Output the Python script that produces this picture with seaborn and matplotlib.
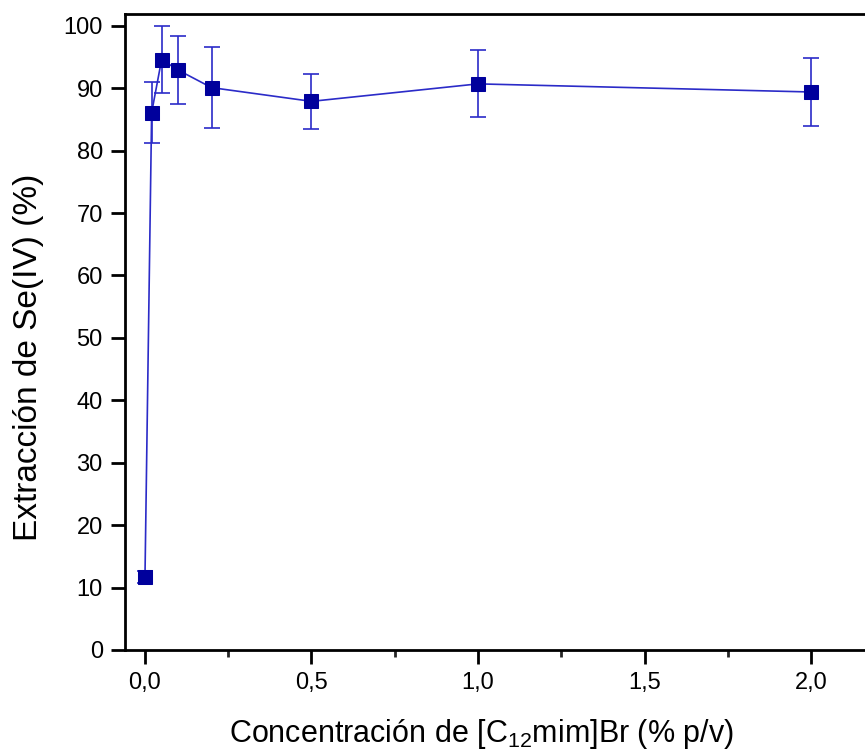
import matplotlib
matplotlib.use("Agg")
import matplotlib.pyplot as plt
import seaborn as sns
import pandas as pd
from matplotlib.ticker import MultipleLocator

# concentration of [C12mim]Br (% p/v) vs Se(IV) extraction (%)
concentration = [0.0, 0.02, 0.05, 0.1, 0.2, 0.5, 1.0, 2.0]
extraction = [11.7, 86.1, 94.6, 92.9, 90.1, 87.9, 90.7, 89.4]
error = [1.0, 4.9, 5.4, 5.45, 6.5, 4.45, 5.35, 5.5]
tick_labels = ["0,0", "0,5", "1,0", "1,5", "2,0"]

df = pd.DataFrame({"conc": concentration, "ext": extraction, "err": error})

sns.set_style("ticks")
plt.rcParams["font.family"] = ["Liberation Sans", "DejaVu Sans"]
plt.rcParams["mathtext.fontset"] = "custom"
plt.rcParams["mathtext.rm"] = "Liberation Sans"
plt.rcParams["axes.labelcolor"] = "black"
plt.rcParams["text.color"] = "black"

fig = plt.figure(figsize=(8.65, 7.51), dpi=100)
ax = fig.add_axes([0.1445, 0.1345, 0.8555, 0.8469])

line_color = "#2b2bc8"
marker_color = "#00009c"

ax.errorbar(df["conc"], df["ext"], yerr=df["err"], fmt="none",
            ecolor=line_color, elinewidth=1.2, capsize=6, capthick=1.2, zorder=2)
sns.lineplot(data=df, x="conc", y="ext", ax=ax, color=line_color, linewidth=1.2,
             marker="s", markersize=10, markerfacecolor=marker_color,
             markeredgecolor=marker_color, zorder=3)

ax.set_xlim(-0.06, 2.162)
ax.set_ylim(0, 101.9)
ax.xaxis.set_minor_locator(MultipleLocator(0.25))
ax.yaxis.set_major_locator(MultipleLocator(10))
ax.set_xticks([0, 0.5, 1.0, 1.5, 2.0])
ax.set_xticklabels(tick_labels)

for side in ["left", "bottom", "top"]:
    ax.spines[side].set_linewidth(2)
    ax.spines[side].set_color("black")
ax.spines["right"].set_visible(False)

ax.tick_params(axis="both", which="major", direction="out", length=10, width=2,
               labelsize=17, colors="black", pad=6)
ax.tick_params(axis="x", which="minor", direction="out", length=5, width=2)
ax.tick_params(top=False, right=False)

ax.set_xlabel("Concentración de [C$_{12}$mim]Br (% p/v)", fontsize=22)
ax.xaxis.set_label_coords(0.482, -0.105)
ax.xaxis.label.set_verticalalignment("top")
ax.set_ylabel("Extracción de Se(IV) (%)", fontsize=24)
ax.yaxis.set_label_coords(-0.11, 0.46)

plt.savefig("out.png", dpi=100)
